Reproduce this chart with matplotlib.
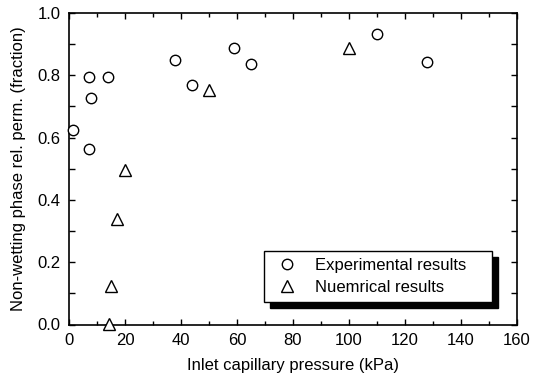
import matplotlib
matplotlib.use("Agg")
import matplotlib.pyplot as plt
from matplotlib.patches import Rectangle
from matplotlib.ticker import MultipleLocator

plt.rcParams['font.family'] = ['Liberation Sans', 'DejaVu Sans']

# Experimental results
exp_x = [1.4, 7.1, 7.9, 7.1, 13.9, 37.9, 43.9, 58.9, 65.0, 110.0, 127.9]
exp_y = [0.624, 0.794, 0.727, 0.563, 0.794, 0.849, 0.769, 0.888, 0.836, 0.933, 0.843]

# Numerical results
num_x = [14.3, 15.0, 17.1, 20.0, 50.0, 100.0]
num_y = [0.003, 0.124, 0.339, 0.496, 0.753, 0.888]

xlabel = "Inlet capillary pressure (kPa)"
ylabel = "Non-wetting phase rel. perm. (fraction)"
labels = ["Experimental results", "Nuemrical results"]

fig = plt.figure(figsize=(5.34, 3.81), dpi=100)
ax = fig.add_axes([69/534, 1 - 324.5/381, 448/534, 311.5/381])

ax.plot(exp_x, exp_y, linestyle='none', marker='o', markersize=7.5,
        markerfacecolor='white', markeredgecolor='black', markeredgewidth=1.0,
        label=labels[0], zorder=3, clip_on=False)
ax.plot(num_x, num_y, linestyle='none', marker='^', markersize=8.5,
        markerfacecolor='white', markeredgecolor='black', markeredgewidth=1.0,
        label=labels[1], zorder=3, clip_on=False)

ax.set_xlim(0, 160)
ax.set_ylim(0, 1.0)
ax.xaxis.set_major_locator(MultipleLocator(20))
ax.xaxis.set_minor_locator(MultipleLocator(10))
ax.yaxis.set_major_locator(MultipleLocator(0.2))
ax.yaxis.set_minor_locator(MultipleLocator(0.1))
ax.yaxis.set_major_formatter(matplotlib.ticker.FormatStrFormatter('%.1f'))

ax.tick_params(which='both', direction='in', top=True, right=True,
               width=1.0, colors='black', labelsize=12)
ax.tick_params(which='major', length=4.5, pad=6)
ax.tick_params(axis='x', which='minor', length=3)
ax.tick_params(axis='y', which='minor', length=4.5)
for s in ax.spines.values():
    s.set_linewidth(1.2)

ax.set_xlabel(xlabel, fontsize=12, labelpad=7)
ax.set_ylabel(ylabel, fontsize=12, labelpad=8)

# legend frame and shadow
W, H = 448.0, 311.5
x0, x1 = (264 - 69) / W, (492 - 69) / W
y0, y1 = (324.5 - 302) / H, (324.5 - 251) / H
dx, dy = 5.5 / W, 6 / H
ax.add_patch(Rectangle((x0 + dx, y0 - dy), x1 - x0, y1 - y0, transform=ax.transAxes,
                       facecolor='black', edgecolor='black', zorder=4))
ax.add_patch(Rectangle((x0, y0), x1 - x0, y1 - y0, transform=ax.transAxes,
                       facecolor='white', edgecolor='black', linewidth=1.0, zorder=4.5))

leg = ax.legend(loc='center left', bbox_to_anchor=(x0, (324.5 - 276.5) / H),
                frameon=False, fontsize=12, handlelength=2.0, handletextpad=0.65,
                borderpad=0.4, borderaxespad=0, labelspacing=0.45, numpoints=1)
leg.set_zorder(5)

fig.savefig("out.png", dpi=100)
